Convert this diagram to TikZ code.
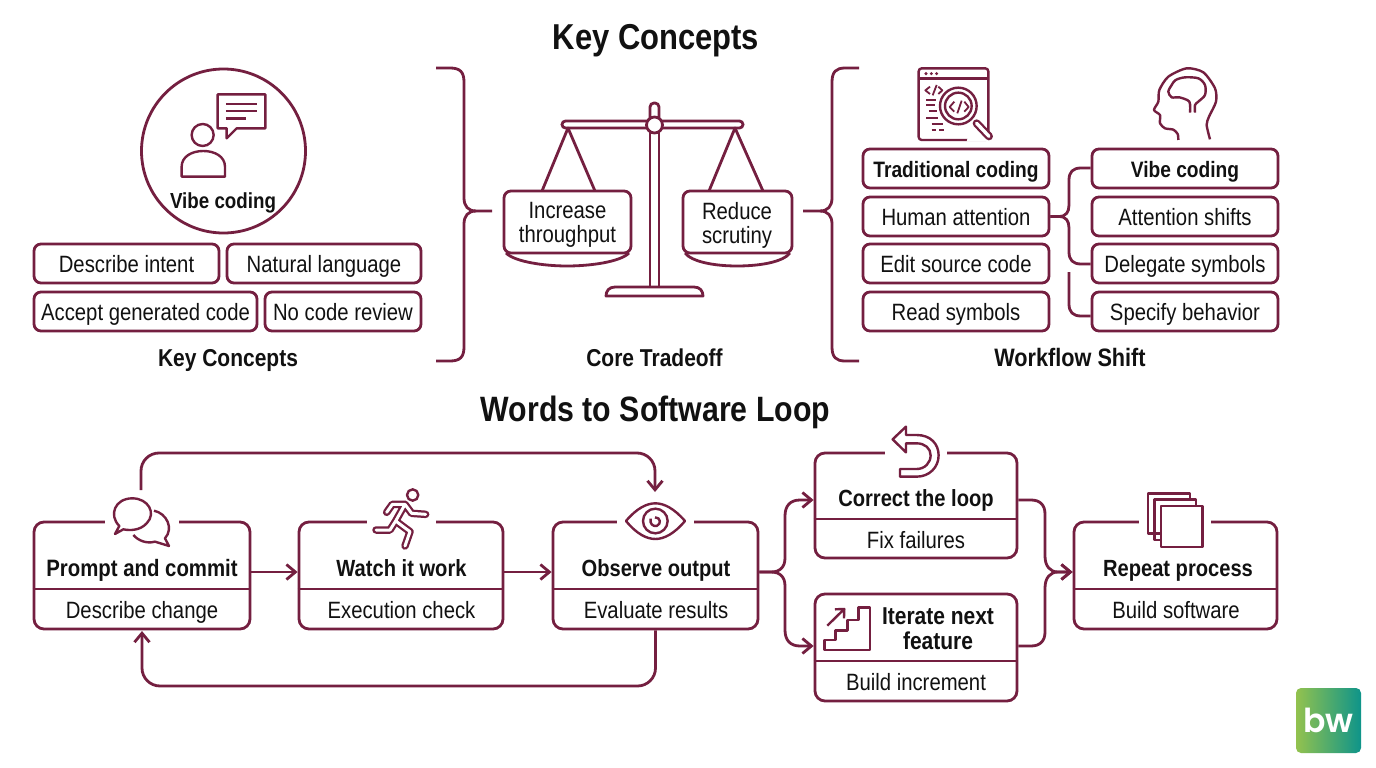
\documentclass[tikz,border=0pt]{standalone}
\usepackage{fontspec}
\setmainfont{Liberation Sans}[FakeStretch=0.86]
\newfontfamily\logofont{Poppins}[BoldFont=Poppins SemiBold]
\usetikzlibrary{arrows.meta,calc}
\definecolor{wine}{HTML}{741F40}
\definecolor{ink}{HTML}{111111}
\definecolor{LogoL}{HTML}{93C24E}
\definecolor{LogoR}{HTML}{0E948A}
\tikzset{
  ln/.style={draw=wine,line width=2.8pt},
  icon/.style={draw=wine,line width=2.4pt,line join=round},
  pill/.style={ln,fill=white,rounded corners=7pt,inner sep=0pt,text=ink},
  cardbox/.style={ln,rounded corners=10pt,inner sep=0pt},
  conn/.style={draw=wine,line width=2.8pt},
  arr/.style={conn,-{Straight Barb[length=9pt,width=15pt,line width=2.8pt]}},
  reg/.style={text=ink,font=\fontsize{23.6}{24}\selectfont,inner sep=0pt,text height=19pt,text depth=2pt},
  reglines/.style={text=ink,font=\fontsize{23.6}{24}\selectfont,inner sep=0pt,align=center},
  bld/.style={text=ink,font=\fontsize{23.4}{25}\selectfont\bfseries,inner sep=0pt,text height=19pt,text depth=2pt},
  fs/.style={font=\fontsize{#1}{25}\selectfont\bfseries},
  ttl/.style={text=ink,font=\fontsize{36}{40}\selectfont\bfseries,inner sep=0pt,text height=28pt,text depth=2pt},
  x=1pt,y=-1pt
}
\newcommand{\pillbox}[7][reg]{%name is #2, box #3 #4 #5 #6, text #7
  \node[pill,minimum width={(#5-#3)*1pt},minimum height={(#6-#4)*1pt},#1] (#2) at ({(#3+#5)/2},{(#4+#6)/2}) {#7};}
\newcommand{\card}[6]{%
  \node[cardbox,minimum width={(#4-#2)*1pt},minimum height={(#5-#3)*1pt}] (#1) at ({(#2+#4)/2},{(#3+#5)/2}) {};
  \draw[ln] (#1.west |- 0,#6) -- (#1.east |- 0,#6);}
\newcommand{\gap}[3]{\fill[white] (#1,#3-3) rectangle (#2,#3+3);}
\begin{document}
\begin{tikzpicture}
\useasboundingbox (0,0) rectangle (1376,768);
\fill[white] (0,0) rectangle (1376,768);
% titles
\node[ttl] (t1) at (656,37) {Key Concepts};
\node[ttl,font=\fontsize{35.2}{40}\selectfont\bfseries] (t2) at (655.5,408) {Words to Software Loop};
\node[bld,fs=24.4] (l1) at (228,358) {Key Concepts};
\node[bld,fs=24.4] (l2) at (654.5,358) {Core Tradeoff};
\node[bld,fs=25.2] (l3) at (1070,358) {Workflow Shift};

% left: circle + person
\node[draw=wine,line width=2.8pt,circle,minimum size=164pt,inner sep=0pt] (vibe) at (223.5,151) {};
\node[bld,fs=21.8] (vibeT) at (223,200) {Vibe coding};
\begin{scope}[shift={(20,60)},x=.3333pt,y=-.3333pt]
  \draw[icon] (548,225) circle (33);
  \draw[icon] (485,350) -- (615,350) -- (615,320) .. controls (615,290) and (585,273) .. (550,273) .. controls (515,273) and (485,290) .. (485,320) -- cycle;
  \draw[icon] (593,103) -- (736,103) -- (736,205) -- (650,205) -- (620,235) -- (620,205) -- (593,205) -- cycle;
  \draw[icon] (618,132) -- (710,132) (618,153) -- (710,153) (618,175) -- (678,175);
\end{scope}
\pillbox{p1}{34}{244}{219}{283}{Describe intent}
\pillbox{p2}{227}{244}{421}{283}{Natural language}
\pillbox{p3}{34}{292}{257}{331}{Accept generated code}
\pillbox{p4}{265}{292}{421}{331}{No code review}

% brace 1
\coordinate (b1t) at (436,68);
\coordinate (b1b) at (436,361);
\coordinate (b1p) at (492,211);
\draw[conn] (b1t) -- (450,68) .. controls (460,68) and (464,72) .. (464,82) -- (464,198) .. controls (464,206) and (468,211) .. (476,211) -- (b1p);
\draw[conn] (b1b) -- (450,361) .. controls (460,361) and (464,357) .. (464,347) -- (464,224) .. controls (464,216) and (468,211) .. (476,211);

% brace 2
\coordinate (b2t) at (859,68);
\coordinate (b2b) at (859,361);
\coordinate (b2p) at (803,211);
\draw[conn] (b2t) -- (845,68) .. controls (836,68) and (832,72) .. (832,82) -- (832,198) .. controls (832,206) and (828,211) .. (820,211) -- (b2p);
\draw[conn] (b2b) -- (845,361) .. controls (836,361) and (832,357) .. (832,347) -- (832,224) .. controls (832,216) and (828,211) .. (820,211);

% scale
\draw[ln,fill=white,rounded corners=4pt] (650,124) -- (650,103) -- (659,103) -- (659,124);
\draw[ln,fill=white] (650,125) -- (650,287) (659,125) -- (659,287);
\draw[ln,fill=white,rounded corners=3.5pt] (562,121) rectangle (743,128);
\draw[ln,fill=white] (654.5,125) circle (8);
\draw[ln,fill=white,line join=round] (606,296) -- (703,296) .. controls (703,291) and (700,287) .. (694,287) -- (615,287) .. controls (609,287) and (606,291) .. (606,296) -- cycle;
\draw[ln,line join=round] (542,191) -- (568,128) -- (595,191);
\draw[ln,line join=round] (709,191) -- (735,128) -- (763,191);
\draw[ln] (506,253) .. controls (515,262) and (545,266) .. (567,266) .. controls (590,266) and (620,262) .. (629,253);
\draw[ln] (685,253) .. controls (692,262) and (715,266) .. (737,266) .. controls (760,266) and (783,262) .. (790,253);
\node[ln,fill=white,rounded corners=7pt,inner sep=0pt,minimum width=127pt,minimum height=62pt] (pl) at (567.5,222) {};
\node[ln,fill=white,rounded corners=7pt,inner sep=0pt,minimum width=109pt,minimum height=62pt] (pr) at (737.5,222) {};
\node[reglines] (plT) at (567.5,225) {Increase\\throughput};
\node[reglines] (prT) at (737,225) {Reduce\\scrutiny};

% workflow icons
\begin{scope}[shift={(820,60)},x=.3333pt,y=-.3333pt]
  \draw[icon,rounded corners=3pt] (296,25) rectangle (505,240);
  \draw[icon] (296,55) -- (505,55);
  \fill[wine] (318,41) circle (5) (334,41) circle (5) (350,41) circle (5);
  \draw[icon,line width=1.8pt] (330,80) -- (316,91) -- (330,102) (350,75) -- (338,106) (355,80) -- (367,91) -- (355,102);
  \draw[icon,line width=1.8pt] (318,120) -- (348,120) (318,135) -- (345,135) (327,152) -- (350,152) (318,175) -- (355,175) (335,192) -- (368,192) (335,210) -- (348,210) (358,210) -- (372,210);
  \fill[white] (460,170) -- (500,215) -- (525,245) -- (440,245) -- cycle;
  \draw[icon,line width=8pt,line cap=round] (470,190) -- (507,229);
  \draw[white,line width=3.4pt,line cap=round] (470,190) -- (507,229);
  \draw[icon,fill=white] (415,138) circle (55);
  \draw[icon] (415,138) circle (40);
  \draw[icon,line width=1.8pt] (403,125) -- (389,141) -- (403,155) (425,122) -- (412,160) (433,125) -- (446,141) -- (433,155);
\end{scope}
% head
\begin{scope}[shift={(1140,60)},x=.3333pt,y=-.3333pt]
  \draw[icon,smooth,tension=.45] plot coordinates {(115,240) (113,222) (100,209) (75,205) (60,190) (60,165) (42,150) (55,125) (58,90) (85,50) (140,25) (190,37) (225,85) (228,125) (207,170) (200,195) (210,238)};
  \draw[icon,smooth,tension=.5] plot coordinates {(150,158) (148,125) (118,112) (95,112) (85,95) (95,75) (107,60) (135,52) (175,55) (195,75) (195,105) (175,125) (165,135) (165,158)};
\end{scope}

% workflow boxes
\pillbox[bld,fs=22.3]{w1}{863}{149}{1049}{188}{Traditional coding}
\pillbox{w2}{863}{197}{1049}{236}{Human attention}
\pillbox{w3}{863}{244}{1049}{283}{Edit source code}
\pillbox{w4}{863}{292}{1049}{331}{Read symbols}
\pillbox[bld,fs=22.3]{v1}{1092}{149}{1278}{188}{Vibe coding}
\pillbox{v2}{1092}{197}{1278}{236}{Attention shifts}
\pillbox{v3}{1092}{244}{1278}{283}{Delegate symbols}
\pillbox{v4}{1092}{292}{1278}{331}{Specify behavior}
\draw[conn] (w2.east) -- (1059,216.5) .. controls (1066,216.5) and (1069,212) .. (1069,205) -- (1069,180) .. controls (1069,172) and (1073,168) .. (1081,168) -- (v1.west |- 0,168);
\draw[conn] (w2.east) -- (1059,216.5) .. controls (1066,216.5) and (1069,221) .. (1069,228) -- (1069,252) .. controls (1069,260) and (1073,264) .. (1081,264) -- (v3.west |- 0,264);
\coordinate (sb) at (1069,272);
\draw[conn] (sb) -- (1069,304) .. controls (1069,312) and (1073,316) .. (1081,316) -- (v4.west |- 0,316);

% loop cards
\card{prompt}{34}{522}{250}{629}{589}
\card{watch}{299}{522}{503}{629}{589}
\card{observe}{553}{522}{758}{629}{589}
\card{correct}{815}{453}{1017}{558}{519}
\card{iterate}{815}{594}{1017}{701}{661}
\card{repeatp}{1074}{522}{1277}{629}{589}
\gap{105}{179}{522}
\gap{367}{436}{522}
\gap{617}{694}{522}
\gap{885}{947}{453}
\gap{1139}{1211}{522}

\node[bld,fs=23.7] (promptT) at (142,567.5) {Prompt and commit};
\node[reg] (promptS) at (142,609.5) {Describe change};
\node[bld] (watchT) at (401.5,567.5) {Watch it work};
\node[reg] (watchS) at (401.5,609.5) {Execution check};
\node[bld] (observeT) at (656,567.5) {Observe output};
\node[reg] (observeS) at (656,609.5) {Evaluate results};
\node[bld] (correctT) at (916,497.5) {Correct the loop};
\node[reg] (correctS) at (916,539.5) {Fix failures};
\node[reglines,font=\fontsize{24.4}{25}\selectfont\bfseries] (iterateT) at (938,629) {Iterate next\\feature};
\node[reg] (iterateS) at (916,681.5) {Build increment};
\node[bld] (repeatT) at (1178,567.5) {Repeat process};
\node[reg] (repeatS) at (1176,609.5) {Build software};

% loop connectors
\draw[arr] (prompt.east |- 0,572) -- (watch.west |- 0,572);
\draw[arr] (watch.east |- 0,572) -- (observe.west |- 0,572);
\coordinate (topS) at (141,490);
\coordinate (topE) at (655,492);
\draw[arr,rounded corners=18pt] (topS) -- (141,453) -- (655,453) -- (topE);
\draw[arr,rounded corners=18pt] (observe.south) -- (655.5,686) -- (142,686) -- (prompt.south |- 0,631);
\draw[arr] (observe.east |- 0,572) -- (771,572) .. controls (780,572) and (785,567) .. (785,558) -- (785,516) .. controls (785,506) and (790,500) .. (800,500) -- (correct.west |- 0,500);
\draw[arr] (observe.east |- 0,572) -- (771,572) .. controls (780,572) and (785,577) .. (785,586) -- (785,630) .. controls (785,640) and (790,646) .. (800,646) -- (iterate.west |- 0,646);
\draw[arr] (correct.east |- 0,500) -- (1031,500) .. controls (1040,500) and (1045,505) .. (1045,514) -- (1045,556) .. controls (1045,566) and (1050,572) .. (1058,572) -- (repeatp.west |- 0,572);
\draw[arr] (iterate.east |- 0,646) -- (1031,646) .. controls (1040,646) and (1045,641) .. (1045,632) -- (1045,588) .. controls (1045,578) and (1050,572) .. (1058,572) -- (repeatp.west |- 0,572);

% chat icon
\begin{scope}[shift={(20,440)},x=.3333pt,y=-.3333pt]
  \draw[icon] (285,282) -- (298,258) .. controls (265,225) and (285,175) .. (337,175) .. controls (385,175) and (410,220) .. (380,250) .. controls (360,272) and (330,272) .. (310,268) -- cycle;
  \draw[icon] (402,212) .. controls (440,220) and (462,265) .. (435,295) -- (447,318) -- (405,305) .. controls (380,312) and (355,302) .. (340,285);
\end{scope}
% runner
\begin{scope}[shift={(360,480)},x=.3333pt,y=-.3333pt]
  \draw[icon] (158,45) circle (17);
  \draw[wine,line width=7.5pt,line cap=round,line join=round] (80,97) -- (97,73) -- (135,73) -- (107,123) -- (90,150) -- (48,150)
     (135,73) -- (155,100) -- (197,103) (107,123) -- (150,155) -- (135,198);
  \draw[white,line width=3pt,line cap=round,line join=round] (80,97) -- (97,73) -- (135,73) -- (107,123) -- (90,150) -- (48,150)
     (135,73) -- (155,100) -- (197,103) (107,123) -- (150,155) -- (135,198);
\end{scope}
% eye, return arrow, stairs
\begin{scope}[shift={(520,420)},x=.3333pt,y=-.3333pt]
  \draw[icon] (318,303) .. controls (350,265) and (380,250) .. (406,250) .. controls (432,250) and (462,265) .. (495,303) .. controls (462,342) and (432,357) .. (406,357) .. controls (380,357) and (350,342) .. (318,303) -- cycle;
  \draw[icon] (406,303) circle (37);
  \draw[icon] (392,296) .. controls (388,312) and (400,320) .. (410,318) .. controls (425,312) and (422,292) .. (405,292);
  \draw[icon] (1118,58) -- (1158,20) -- (1158,45) -- (1190,45) .. controls (1232,45) and (1256,72) .. (1256,106) .. controls (1256,142) and (1228,170) .. (1190,170) -- (1140,170) -- (1140,147) -- (1190,147) .. controls (1215,147) and (1232,128) .. (1232,106) .. controls (1232,85) and (1215,70) .. (1190,70) -- (1158,70) -- (1158,97) -- cycle;
  \draw[icon] (913,690) -- (1050,690) -- (1050,562) -- (1015,562) -- (1015,600) -- (982,600) -- (982,632) -- (947,632) -- (947,660) -- (913,660) -- cycle;
  \draw[icon] (922,617) -- (973,567) (945,568) -- (973,567) -- (972,595);
\end{scope}
% layers
\begin{scope}[shift={(1010,470)},x=.3333pt,y=-.3333pt]
  \draw[icon] (453,190) -- (414,190) -- (414,70) -- (540,70) -- (540,88);
  \draw[icon] (453,210) -- (433,210) -- (433,88) -- (558,88) -- (558,108);
  \draw[icon] (453,108) rectangle (578,231);
\end{scope}
% logo
\node[rounded corners=5pt,left color=LogoL,right color=LogoR,minimum width=65pt,minimum height=65pt,inner sep=0pt,text=white,font=\logofont\bfseries\fontsize{33}{33}\selectfont] (logo) at (1328.5,720.5) {bw};
\end{tikzpicture}
\end{document}
